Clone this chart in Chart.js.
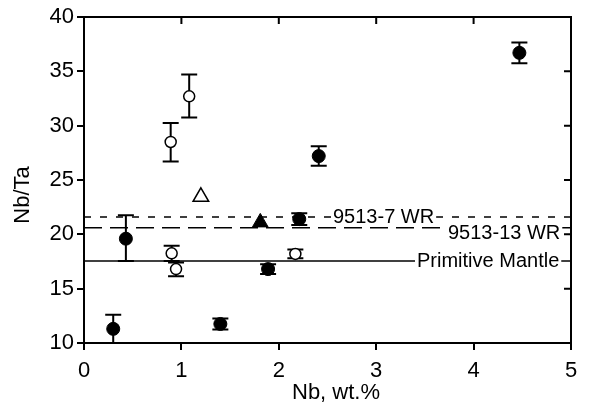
<!DOCTYPE html>
<html>
<head>
<meta charset="utf-8">
<script src="https://cdn.jsdelivr.net/npm/chart.js"></script>
<style>
  html, body { margin: 0; padding: 0; background: #fff; }
  canvas { display: block; }
</style>
</head>
<body>
<canvas id="myChart" width="590" height="404"></canvas>
<script>
const FONT = '"Liberation Sans", Arial, Helvetica, sans-serif'

// filled circles
const solidX = [0.30, 0.43, 1.40, 1.89, 2.21, 2.41, 4.47]
const solidY = [11.3, 19.6, 11.75, 16.8, 21.4, 27.2, 36.7]
const solidLo = [9.5, 17.55, 11.25, 16.35, 20.85, 26.3, 35.75]
const solidHi = [12.6, 21.75, 12.25, 17.25, 21.95, 28.1, 37.65]

// open circles
const openX = [0.89, 0.90, 0.945, 1.08, 2.17]
const openY = [28.5, 18.25, 16.8, 32.7, 18.2]
const openLo = [26.7, 17.55, 16.15, 30.75, 17.8]
const openHi = [30.25, 18.95, 17.4, 34.7, 18.6]

// triangles
const openTriX = [1.2]
const openTriY = [23.45]
const solidTriX = [1.81]
const solidTriY = [21.1]

// reference lines
const refNames = ["9513-7 WR", "9513-13 WR", "Primitive Mantle"]
const refValues = [21.6, 20.6, 17.55]

const xMin = 0, xMax = 5, xStep = 1
const yMin = 10, yMax = 40, yStep = 5

// label placement (pixels), dash styles
const refStyle = [
  { dash: [7, 9], labelX: 333, dy: 0 },
  { dash: [18, 8], labelX: 448, dy: 4.5 },
  { dash: [], labelX: 417, dy: 0 },
]

const pts = (xs, ys) => xs.map((x, i) => ({ x: x, y: ys[i] }))

const errorBars = {
  id: "errorBars",
  beforeDatasetsDraw(chart) {
    const { ctx, chartArea: a, scales: { x, y } } = chart
    ctx.save()
    ctx.beginPath()
    ctx.rect(a.left, a.top, a.right - a.left, a.bottom - a.top)
    ctx.clip()
    ctx.strokeStyle = "#000"
    ctx.lineWidth = 2
    chart.data.datasets.forEach(ds => {
      if (!ds.lo) return
      ds.data.forEach((p, i) => {
        const px = x.getPixelForValue(p.x)
        const lo = y.getPixelForValue(ds.lo[i])
        const hi = y.getPixelForValue(ds.hi[i])
        ctx.beginPath()
        ctx.moveTo(px, lo)
        ctx.lineTo(px, hi)
        ctx.moveTo(px - 8, hi)
        ctx.lineTo(px + 8, hi)
        if (ds.lo[i] > yMin) {
          ctx.moveTo(px - 8, lo)
          ctx.lineTo(px + 8, lo)
        }
        ctx.stroke()
      })
    })
    ctx.restore()
  },
}

const refLabels = {
  id: "refLabels",
  afterDatasetsDraw(chart) {
    const { ctx, scales: { y } } = chart
    ctx.save()
    ctx.font = "20px " + FONT
    ctx.textBaseline = "middle"
    ctx.textAlign = "left"
    refNames.forEach((name, i) => {
      const st = refStyle[i]
      const cy = y.getPixelForValue(refValues[i]) + st.dy
      const w = ctx.measureText(name).width
      ctx.fillStyle = "#fff"
      ctx.fillRect(st.labelX - 2, cy - 8, w + 4, 16)
      ctx.fillStyle = "#000"
      ctx.fillText(name, st.labelX, cy + 1)
    })
    ctx.restore()
  },
}

const frame = {
  id: "frame",
  afterDraw(chart) {
    const { ctx, chartArea: a, scales: { x, y } } = chart
    ctx.save()
    ctx.strokeStyle = "#000"
    ctx.lineWidth = 2
    ctx.beginPath()
    ctx.moveTo(a.left, a.top)
    ctx.lineTo(a.right, a.top)
    ctx.lineTo(a.right, a.bottom)
    for (let v = xMin + xStep; v < xMax; v += xStep) {
      const px = x.getPixelForValue(v)
      ctx.moveTo(px, a.top)
      ctx.lineTo(px, a.top + 7)
    }
    for (let v = yMin + yStep; v < yMax; v += yStep) {
      const py = y.getPixelForValue(v)
      ctx.moveTo(a.right, py)
      ctx.lineTo(a.right - 7, py)
    }
    ctx.stroke()

    // axis titles
    ctx.fillStyle = "#000"
    ctx.font = "22px " + FONT
    ctx.textAlign = "center"
    ctx.textBaseline = "middle"
    ctx.fillText("Nb, wt.%", 336, 393)
    ctx.translate(23, 195)
    ctx.rotate(-Math.PI / 2)
    ctx.fillText("Nb/Ta", 0, 0)
    ctx.restore()
  },
}

const ctx = document.getElementById("myChart")
new Chart(ctx, {
  type: "scatter",
  data: {
    datasets: [
      ...refValues.map((v, i) => ({
        type: "line",
        label: refNames[i],
        data: [{ x: xMin, y: v }, { x: xMax, y: v }],
        borderColor: "#000",
        borderWidth: 1.5,
        borderDash: refStyle[i].dash,
        pointRadius: 0,
        fill: false,
      })),
      {
        label: "filled",
        data: pts(solidX, solidY),
        lo: solidLo,
        hi: solidHi,
        pointStyle: "circle",
        pointRadius: 6.5,
        backgroundColor: "#000",
        borderColor: "#000",
        borderWidth: 1,
      },
      {
        label: "open",
        data: pts(openX, openY),
        lo: openLo,
        hi: openHi,
        pointStyle: "circle",
        pointRadius: 5.5,
        backgroundColor: "#fff",
        borderColor: "#000",
        borderWidth: 1.5,
      },
      {
        label: "open triangle",
        data: pts(openTriX, openTriY),
        pointStyle: "triangle",
        pointRadius: 9,
        backgroundColor: "#fff",
        borderColor: "#000",
        borderWidth: 1.5,
      },
      {
        label: "filled triangle",
        data: pts(solidTriX, solidTriY),
        pointStyle: "triangle",
        pointRadius: 9,
        backgroundColor: "#000",
        borderColor: "#000",
        borderWidth: 1,
      },
    ],
  },
  options: {
    responsive: false,
    animation: false,
    devicePixelRatio: 1,
    layout: { padding: { top: 17, right: 19, left: 0, bottom: 0 } },
    plugins: {
      legend: { display: false },
      tooltip: { enabled: false },
    },
    scales: {
      x: {
        type: "linear",
        min: xMin,
        max: xMax,
        ticks: { stepSize: xStep, color: "#000", padding: 8, font: { family: FONT, size: 22 } },
        grid: { drawOnChartArea: false, tickLength: 7, color: "#000", lineWidth: 2 },
        border: { color: "#000", width: 2 },
        afterFit(s) { s.height = 61 },
      },
      y: {
        type: "linear",
        min: yMin,
        max: yMax,
        ticks: { stepSize: yStep, color: "#000", padding: 3, font: { family: FONT, size: 22 } },
        grid: { drawOnChartArea: false, tickLength: 7, color: "#000", lineWidth: 2 },
        border: { color: "#000", width: 2 },
        afterFit(s) { s.width = 84 },
      },
    },
  },
  plugins: [errorBars, refLabels, frame],
})
</script>
</body>
</html>
